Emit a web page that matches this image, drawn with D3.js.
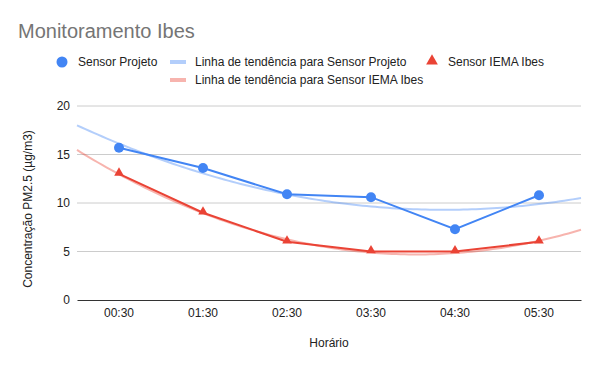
<!DOCTYPE html>
<html><head><meta charset="utf-8">
<script src="https://cdn.jsdelivr.net/npm/d3@7"></script>
<style>body{margin:0;background:#fff}svg{display:block;font-family:Arial,"Liberation Sans",sans-serif}</style>
</head><body><svg id="c" width="600" height="371"></svg>
<script>
const categories = ["00:30","01:30","02:30","03:30","04:30","05:30"];
const sensorProjeto = [15.7, 13.6, 10.9, 10.6, 7.3, 10.8];
const sensorIEMA = [13, 9, 6, 5, 5, 6];
const yTicks = [0, 5, 10, 15, 20];
const seriesNames = ["Sensor Projeto", "Linha de tendência para Sensor Projeto", "Sensor IEMA Ibes", "Linha de tendência para Sensor IEMA Ibes"];

const FONT = 'Arial,"Liberation Sans",sans-serif';
const blue = "#4285F4", red = "#EA4335";
const svg = d3.select("#c");
const L = 77, R = 581, T = 106, B = 300;

const x = d3.scaleBand().domain(categories).range([L, R]);
const xc = c => x(c) + x.bandwidth() / 2;
const xi = d3.scaleLinear().domain([-0.5, categories.length - 0.5]).range([L, R]);
const y = d3.scaleLinear().domain([0, 20]).range([B, T]);

// quadratic least squares fit
function quadFit(vals) {
  let S = [0,0,0,0,0], Sy = [0,0,0];
  vals.forEach((v, i) => { for (let k = 0; k < 5; k++) S[k] += Math.pow(i, k); for (let k = 0; k < 3; k++) Sy[k] += v * Math.pow(i, k); });
  const A = [[S[0],S[1],S[2],Sy[0]],[S[1],S[2],S[3],Sy[1]],[S[2],S[3],S[4],Sy[2]]];
  for (let i = 0; i < 3; i++) { for (let j = i + 1; j < 3; j++) { const f = A[j][i] / A[i][i]; for (let k = i; k < 4; k++) A[j][k] -= f * A[i][k]; } }
  const c = [0,0,0];
  for (let i = 2; i >= 0; i--) { let s = A[i][3]; for (let k = i + 1; k < 3; k++) s -= A[i][k] * c[k]; c[i] = s / A[i][i]; }
  return t => c[0] + c[1] * t + c[2] * t * t;
}

// title
svg.append("text").attr("x", 18).attr("y", 38).attr("font-size", 20).attr("fill", "#757575").text("Monitoramento Ibes");

// gridlines
svg.append("g").selectAll("line").data(yTicks.filter(d => d > 0)).join("line")
  .attr("x1", L).attr("x2", R).attr("y1", d => y(d)).attr("y2", d => y(d)).attr("stroke", "#cccccc").attr("stroke-width", 1);

// y axis
const ya = svg.append("g").attr("transform", `translate(${L},0)`).call(d3.axisLeft(y).tickValues(yTicks).tickSize(0).tickPadding(7));
ya.select(".domain").remove();
ya.selectAll("text").attr("font-size", 12).attr("fill", "#222").attr("font-family", FONT);

// x axis
const xa = svg.append("g").attr("transform", `translate(0,${B})`).call(d3.axisBottom(x).tickSize(0).tickPadding(8));
xa.select(".domain").attr("stroke", "#333").attr("stroke-width", 1);
xa.selectAll("text").attr("font-size", 12).attr("fill", "#222").attr("font-family", FONT);

// axis titles
svg.append("text").attr("x", (L + R) / 2).attr("y", 347).attr("text-anchor", "middle").attr("font-size", 12).attr("fill", "#222").text("Horário");
svg.append("text").attr("transform", `translate(32,209) rotate(-90)`).attr("text-anchor", "middle").attr("font-size", 12).attr("fill", "#222").text("Concentração PM2.5 (µg/m3)");

// trendlines
const ts = d3.range(-0.5, categories.length - 0.5 + 0.001, 0.05);
[[sensorProjeto, blue], [sensorIEMA, red]].forEach(([vals, col]) => {
  const f = quadFit(vals);
  svg.append("path").datum(ts).attr("fill", "none").attr("stroke", col).attr("stroke-opacity", 0.4).attr("stroke-width", 2)
    .attr("d", d3.line().x(t => xi(t)).y(t => y(f(t))));
});

// series lines
const line = d3.line().x((d, i) => xc(categories[i])).y(d => y(d));
svg.append("path").datum(sensorProjeto).attr("fill", "none").attr("stroke", blue).attr("stroke-width", 2).attr("d", line);
svg.append("path").datum(sensorIEMA).attr("fill", "none").attr("stroke", red).attr("stroke-width", 2).attr("d", line);

svg.append("g").selectAll("circle").data(sensorProjeto).join("circle")
  .attr("cx", (d, i) => xc(categories[i])).attr("cy", d => y(d)).attr("r", 5).attr("fill", blue);
const tri = d3.symbol().type(d3.symbolTriangle).size(40);
svg.append("g").selectAll("path").data(sensorIEMA).join("path")
  .attr("transform", (d, i) => `translate(${xc(categories[i])},${y(d) - 1})`).attr("d", tri).attr("fill", red);

// legend
const lg = svg.append("g").attr("font-size", 12).attr("fill", "#222");
lg.append("circle").attr("cx", 62).attr("cy", 62).attr("r", 5.5).attr("fill", blue);
lg.append("text").attr("x", 78).attr("y", 66).text(seriesNames[0]);
lg.append("rect").attr("x", 170).attr("y", 60).attr("width", 16).attr("height", 4).attr("fill", blue).attr("opacity", 0.4);
lg.append("text").attr("x", 195).attr("y", 66).text(seriesNames[1]);
lg.append("path").attr("transform", "translate(432,61)").attr("d", d3.symbol().type(d3.symbolTriangle).size(60)).attr("fill", red);
lg.append("text").attr("x", 448).attr("y", 66).text(seriesNames[2]);
lg.append("rect").attr("x", 170).attr("y", 78).attr("width", 16).attr("height", 4).attr("fill", red).attr("opacity", 0.4);
lg.append("text").attr("x", 195).attr("y", 84).text(seriesNames[3]);
</script></body></html>
